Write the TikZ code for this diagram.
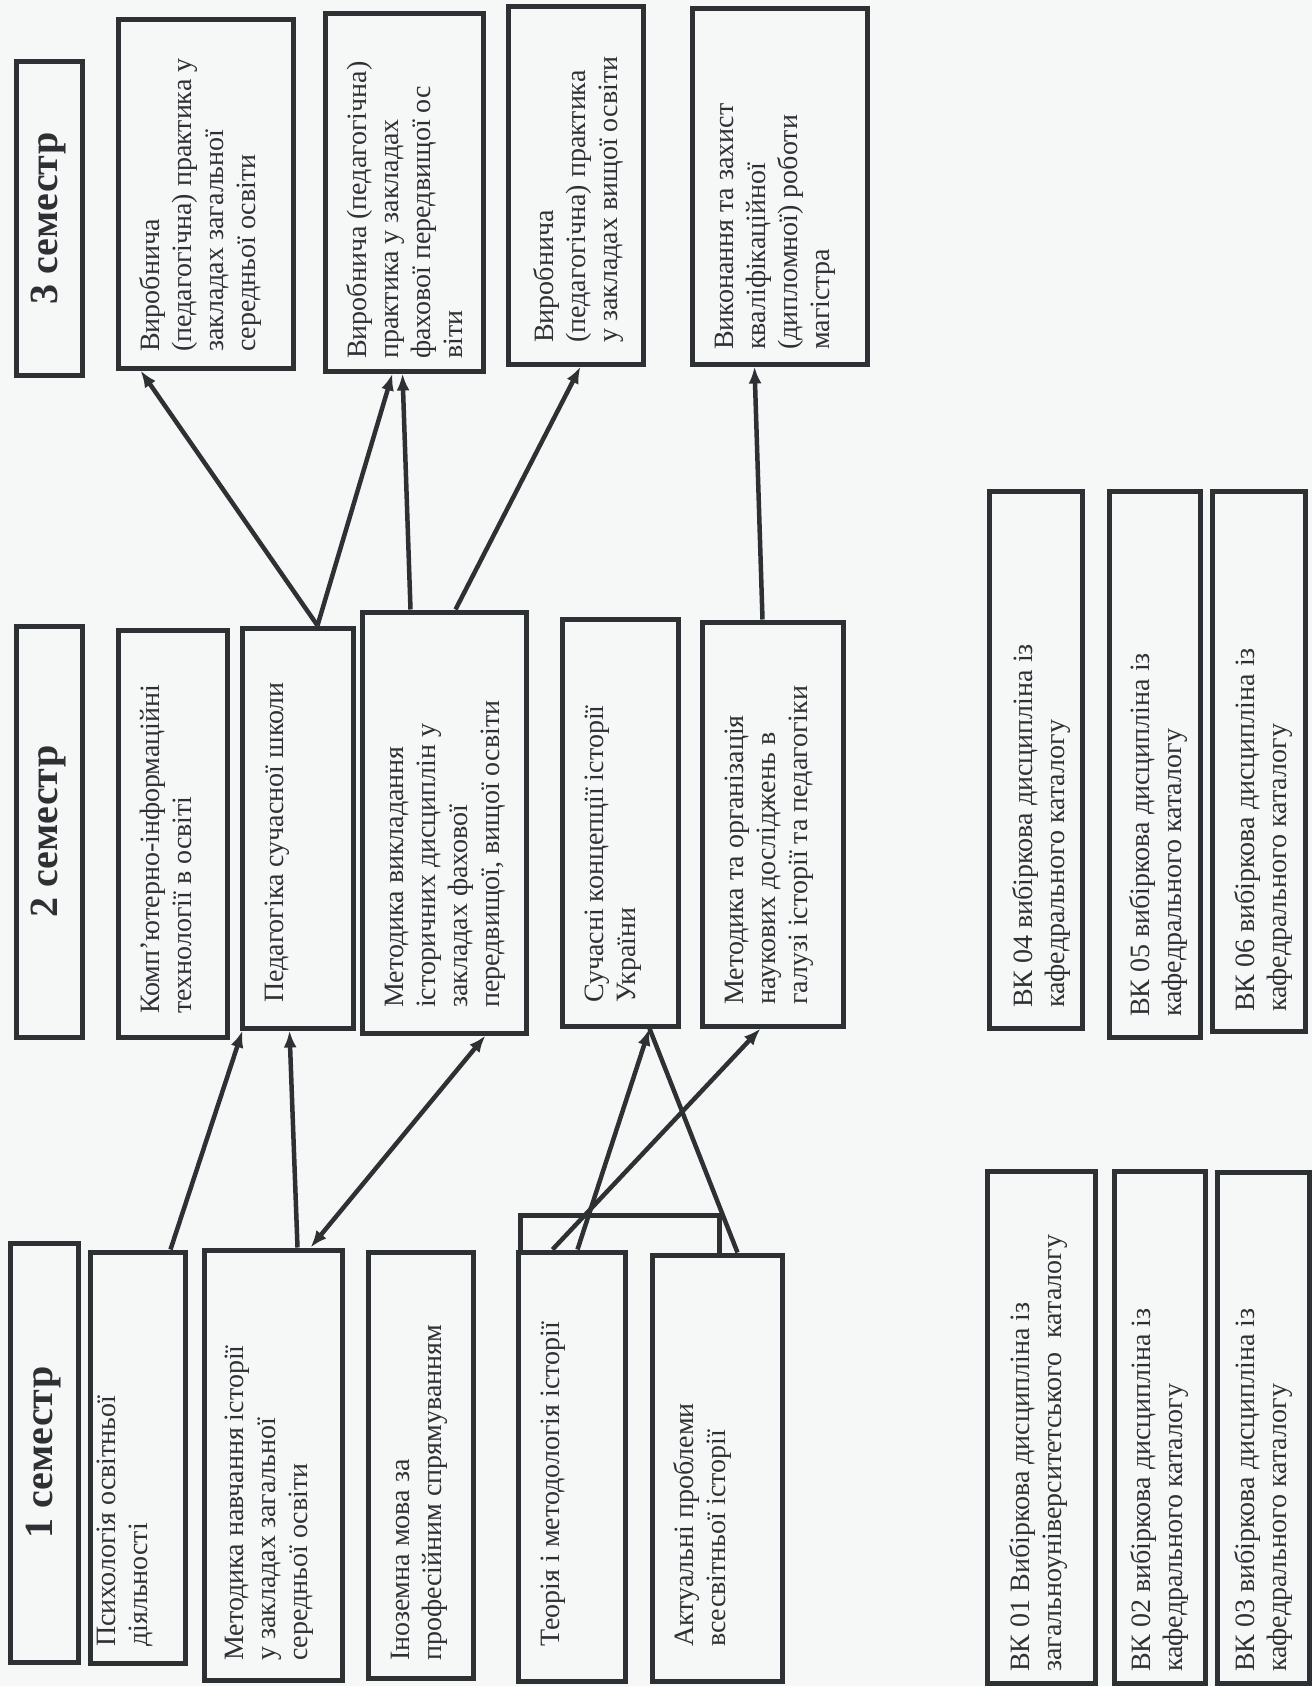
\documentclass[tikz,border=0pt]{standalone}
\usepackage{fontspec}
\setmainfont{Liberation Serif}
\usetikzlibrary{fit,arrows.meta}
\definecolor{ink}{RGB}{46,49,52}
\definecolor{paper}{RGB}{246,247,247}
\newcommand\bodyfont{\fontsize{28pt}{32pt}\selectfont}
\newcommand\hdfont{\fontsize{40pt}{44pt}\selectfont\bfseries}
\newcommand\tl[1]{\begin{tabular}[t]{@{}l@{}}#1\end{tabular}}
\begin{document}
\begin{tikzpicture}[x=1pt,y=-1pt,
  bx/.style={draw=ink, line width=5pt, inner sep=0pt},
  txt/.style={rotate=90, anchor=base west, inner sep=0pt, text=ink, font=\bodyfont},
  hd/.style={rotate=90, inner sep=0pt, text=ink, font=\hdfont},
  arr/.style={draw=ink, line width=4.5pt, -{Latex[length=17pt,width=13pt]}},
  darr/.style={draw=ink, line width=4.5pt, {Latex[length=17pt,width=13pt]}-{Latex[length=17pt,width=13pt]}},
  ln/.style={draw=ink, line width=4.5pt}]
\fill[paper] (0,0) rectangle (1312,1686);
\useasboundingbox (0,0) rectangle (1312,1686);

% ---------- 3rd semester ----------
\node[bx, fit={(16,62)(82,375)}] (h3) {};
\node[hd] (h3t) at (h3.center) {3 семестр};
\node[bx, fit={(118,20)(293,368)}] (a3a) {};
\node[txt] (t3a) at (159,352) {\tl{Виробнича\\(педагогічна) практика у\\закладах загальної\\середньої освіти}};
\node[bx, fit={(325,14)(483,371)}] (a3b) {};
\node[txt] (t3b) at (366,359) {\tl{Виробнича (педагогічна)\\практика у закладах\\фахової передвищої ос\\віти}};
\node[bx, fit={(508,7)(643,364)}] (a3c) {};
\node[txt] (t3c) at (553,343) {\tl{Виробнича\\(педагогічна) практика\\у закладах вищої освіти}};
\node[bx, fit={(692,9)(867,364)}] (a3d) {};
\node[txt] (t3d) at (733,350) {\tl{Виконання та захист\\кваліфікаційної\\(дипломної) роботи\\магістра}};

% ---------- 2nd semester ----------
\node[bx, fit={(16,626)(82,1037)}] (h2) {};
\node[hd] (h2t) at (h2.center) {2 семестр};
\node[bx, fit={(118,630)(227,1037)}] (komp) {};
\node[txt] (tkomp) at (159,1014) {\tl{Комп’ютерно-інформаційні\\технології в освіті}};
\node[bx, fit={(242,628)(353,1028)}] (ped) {};
\node[txt] (tped) at (283,1003) {\tl{Педагогіка сучасної школи}};
\node[bx, fit={(362,612)(526,1033)}] (metv) {};
\node[txt] (tmetv) at (403,1008) {\tl{Методика викладання\\історичних дисциплін у\\закладах фахової\\передвищої, вищої освіти}};
\node[bx, fit={(562,619)(678,1026)}] (such) {};
\node[txt] (tsuch) at (603,1003) {\tl{Сучасні концепції історії\\України}};
\node[bx, fit={(702,622)(843,1026)}] (meto) {};
\node[txt] (tmeto) at (743,1005) {\tl{Методика та організація\\наукових досліджень в\\галузі історії та педагогіки}};

% ---------- 1st semester ----------
\node[bx, fit={(10,1243)(78,1662)}] (h1) {};
\node[hd] (h1t) at (h1.center) {1 семестр};
\node[bx, fit={(90,1252)(185,1663)}] (psy) {};
\node[txt] (tpsy) at (115,1647) {\tl{Психологія освітньої\\діяльності}};
\node[bx, fit={(204,1250)(342,1680)}] (metn) {};
\node[txt] (tmetn) at (243,1661) {\tl{Методика навчання історії\\у закладах загальної\\середньої освіти}};
\node[bx, fit={(368,1252)(473,1678)}] (inoz) {};
\node[txt] (tinoz) at (409,1661) {\tl{Іноземна мова за\\професійним спрямуванням}};
\node[bx, fit={(518,1252)(625,1681)}] (teor) {};
\node[txt] (tteor) at (559,1647) {\tl{Теорія і методологія історії}};
\node[bx, fit={(652,1255)(782,1681)}] (akt) {};
\node[txt] (takt) at (693,1647) {\tl{Актуальні проблеми\\всесвітньої історії}};

% ---------- elective blocks ----------
\node[bx, fit={(989,491)(1082,1028)}] (vk4) {};
\node[txt] (tvk4) at (1032,1008) {\tl{ВК 04 вибіркова дисципліна із\\кафедрального каталогу}};
\node[bx, fit={(1109,491)(1200,1037)}] (vk5) {};
\node[txt] (tvk5) at (1149,1017) {\tl{ВК 05 вибіркова дисципліна із\\кафедрального каталогу}};
\node[bx, fit={(1212,491)(1305,1031)}] (vk6) {};
\node[txt] (tvk6) at (1254,1012) {\tl{ВК 06 вибіркова дисципліна із\\кафедрального каталогу}};
\node[bx, fit={(987,1171)(1095,1683)}] (vk1) {};
\node[txt] (tvk1) at (1029,1672) {\tl{ВК 01 Вибіркова дисципліна із\\загальноуніверситетського \ каталогу}};
\node[bx, fit={(1114,1171)(1205,1683)}] (vk2) {};
\node[txt] (tvk2) at (1150,1672) {\tl{ВК 02 вибіркова дисципліна із\\кафедрального каталогу}};
\node[bx, fit={(1217,1172)(1309,1683)}] (vk3) {};
\node[txt] (tvk3) at (1254,1672) {\tl{ВК 03 вибіркова дисципліна із\\кафедрального каталогу}};

% ---------- connectors: 2 -> 3 ----------
\draw[arr] ([xshift=78pt]ped.north west) -- ([xshift=25pt]a3a.south west);
\draw[arr] ([xshift=78pt]ped.north west) -- ([xshift=70pt]a3b.south west);
\draw[arr] ([xshift=51pt]metv.north west) -- ([xshift=80pt]a3b.south west);
\draw[arr] ([xshift=96pt]metv.north west) -- ([xshift=75pt]a3c.south west);
\draw[arr] ([xshift=63pt]meto.north west) -- ([xshift=65pt]a3d.south west);

% ---------- connectors: 1 -> 2 ----------
\draw[arr] ([xshift=83pt]psy.north west) -- ([xshift=3pt]ped.south west);
\draw[arr] ([xshift=96pt]metn.north west) -- ([xshift=50pt]ped.south west);
\draw[darr] ([xshift=109pt]metn.north west) -- ([xshift=126pt]metv.south west);
\draw[arr] ([xshift=62pt]teor.north west) -- ([xshift=90pt]such.south west);
\draw[arr] ([xshift=37pt]teor.north west) -- ([xshift=61pt]meto.south west);
\draw[ln] ([xshift=88pt]akt.north west) -- ([xshift=90pt]such.south west);
\draw[ln] ([xshift=5pt]teor.north west) -- ++(0,-34) -| ([xshift=70pt]akt.north west);
\end{tikzpicture}
\end{document}
